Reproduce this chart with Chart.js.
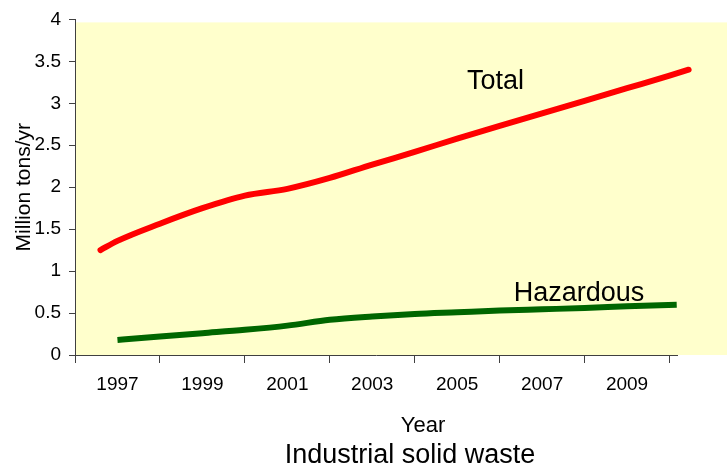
<!DOCTYPE html>
<html>
<head>
<meta charset="utf-8">
<title>Industrial solid waste</title>
<script src="https://cdn.jsdelivr.net/npm/chart.js@4.4.1/dist/chart.umd.min.js"></script>
<style>
  html, body { margin: 0; padding: 0; background: #ffffff; overflow: hidden; }
  #wrap { width: 820px; height: 474px; }
</style>
</head>
<body>
<div id="wrap"><canvas id="chart" width="820" height="474"></canvas></div>
<script>
// Annual industrial solid waste, million tons per year
const totalYears   = [1996.6, 1997, 1998, 1999, 2000, 2001, 2002, 2003, 2004, 2005, 2006, 2007, 2008, 2009, 2010, 2010.45];
const totalValues  = [1.25, 1.36, 1.565, 1.75, 1.90, 1.98, 2.11, 2.27, 2.42, 2.58, 2.73, 2.88, 3.03, 3.18, 3.33, 3.40];
const hazardYears  = [1997, 1998, 1999, 2000, 2001, 2002, 2003, 2004, 2005, 2006, 2007, 2008, 2009, 2010.17];
const hazardValues = [0.18, 0.22, 0.26, 0.30, 0.35, 0.42, 0.46, 0.49, 0.51, 0.53, 0.545, 0.56, 0.58, 0.60];

// Axis ticks: marks on even years, year labels on odd years
const tickYears  = [1996, 1998, 2000, 2002, 2004, 2006, 2008, 2010];
const labelYears = [1997, 1999, 2001, 2003, 2005, 2007, 2009];

const seriesNames = ['Total', 'Hazardous'];
const xTitle = 'Year';
const yTitle = 'Million tons/yr';
const chartTitle = 'Industrial solid waste';

const FONT = "'Liberation Sans', Arial, sans-serif";
const AXIS_COLOR = '#404040';

const toPoints = (xs, ys) => xs.map((x, i) => ({ x: x, y: ys[i] }));

// Pale yellow plot background
const plotBackground = {
  id: 'plotBackground',
  beforeDraw(chart) {
    const { ctx, chartArea: a } = chart;
    ctx.save();
    ctx.fillStyle = '#FFFFCC';
    ctx.fillRect(a.left, a.top + 3, a.right - a.left, a.bottom - a.top - 3);
    ctx.restore();
  }
};

// Horizontal axis line spanning the year range only
const yearAxisLine = {
  id: 'yearAxisLine',
  afterDatasetsDraw(chart, args, opts) {
    const { ctx, chartArea: a, scales: { x } } = chart;
    const y = Math.round(a.bottom) + 0.5;
    ctx.save();
    ctx.strokeStyle = AXIS_COLOR;
    ctx.lineWidth = 1;
    ctx.beginPath();
    ctx.moveTo(x.getPixelForValue(opts.from), y);
    ctx.lineTo(x.getPixelForValue(opts.to), y);
    ctx.stroke();
    ctx.restore();
  }
};

// Series names written next to their lines
const seriesLabels = {
  id: 'seriesLabels',
  afterDatasetsDraw(chart, args, opts) {
    const { ctx, scales: { x, y } } = chart;
    ctx.save();
    ctx.font = opts.font;
    ctx.fillStyle = '#000000';
    ctx.textAlign = 'center';
    ctx.textBaseline = 'middle';
    chart.data.datasets.forEach((ds, i) => {
      const p = opts.anchors[i];
      ctx.fillText(ds.label, x.getPixelForValue(p.x), y.getPixelForValue(p.y));
    });
    ctx.restore();
  }
};

new Chart(document.getElementById('chart'), {
  type: 'line',
  data: {
    datasets: [
      {
        label: seriesNames[0],
        data: toPoints(totalYears, totalValues),
        borderColor: '#FF0000',
        borderWidth: 6,
        borderCapStyle: 'round',
        pointRadius: 0,
        cubicInterpolationMode: 'monotone',
        fill: false
      },
      {
        label: seriesNames[1],
        data: toPoints(hazardYears, hazardValues),
        borderColor: '#006600',
        borderWidth: 6,
        borderCapStyle: 'butt',
        pointRadius: 0,
        cubicInterpolationMode: 'monotone',
        fill: false
      }
    ]
  },
  options: {
    responsive: false,
    animation: false,
    layout: { padding: { top: 15, right: 0, bottom: 0, left: 0 } },
    plugins: {
      legend: { display: false },
      tooltip: { enabled: false },
      title: {
        display: true,
        text: chartTitle,
        position: 'bottom',
        color: '#000000',
        font: { family: FONT, size: 27, weight: 'normal' },
        padding: { top: 0, bottom: 2 }
      },
      yearAxisLine: { from: 1996, to: 2010.2 },
      seriesLabels: {
        font: "27px " + FONT,
        anchors: [ { x: 2005.9, y: 3.26 }, { x: 2007.87, y: 0.73 } ]
      }
    },
    scales: {
      x: {
        type: 'linear',
        min: 1996,
        max: 2012.39,
        afterBuildTicks(scale) {
          const all = [];
          for (let yr = tickYears[0]; yr <= tickYears[tickYears.length - 1]; yr++) all.push({ value: yr });
          scale.ticks = all;
        },
        afterFit(scale) { scale.height = 84.6; },
        border: { display: false },
        grid: {
          drawOnChartArea: false,
          drawTicks: true,
          tickLength: 8,
          color: (c) => (c.tick && tickYears.includes(c.tick.value)) ? AXIS_COLOR : 'rgba(0,0,0,0)',
          lineWidth: 1
        },
        ticks: {
          autoSkip: false,
          maxRotation: 0,
          padding: 10,
          color: '#000000',
          font: { family: FONT, size: 19 },
          callback: (v) => labelYears.includes(v) ? String(v) : ''
        },
        title: {
          display: true,
          text: xTitle,
          color: '#000000',
          font: { family: FONT, size: 22 },
          padding: { top: 0, bottom: 0 }
        }
      },
      y: {
        min: 0,
        max: 4,
        afterFit(scale) { scale.width = 75; },
        border: { display: true, color: AXIS_COLOR, width: 1 },
        grid: {
          drawOnChartArea: false,
          drawTicks: true,
          tickLength: 6,
          color: AXIS_COLOR
        },
        ticks: {
          stepSize: 0.5,
          padding: 8,
          color: '#000000',
          font: { family: FONT, size: 19 },
          callback: (v) => String(v)
        },
        title: {
          display: true,
          text: yTitle,
          color: '#000000',
          font: { family: FONT, size: 21 },
          padding: { top: 12, bottom: 0 }
        }
      },
      // Empty right-hand margin of the plot frame
      yMargin: {
        position: 'right',
        min: 0,
        max: 4,
        afterFit(scale) { scale.width = 49; },
        border: { display: false },
        grid: { display: false },
        ticks: { display: false }
      }
    }
  },
  plugins: [plotBackground, yearAxisLine, seriesLabels]
});
</script>
</body>
</html>
